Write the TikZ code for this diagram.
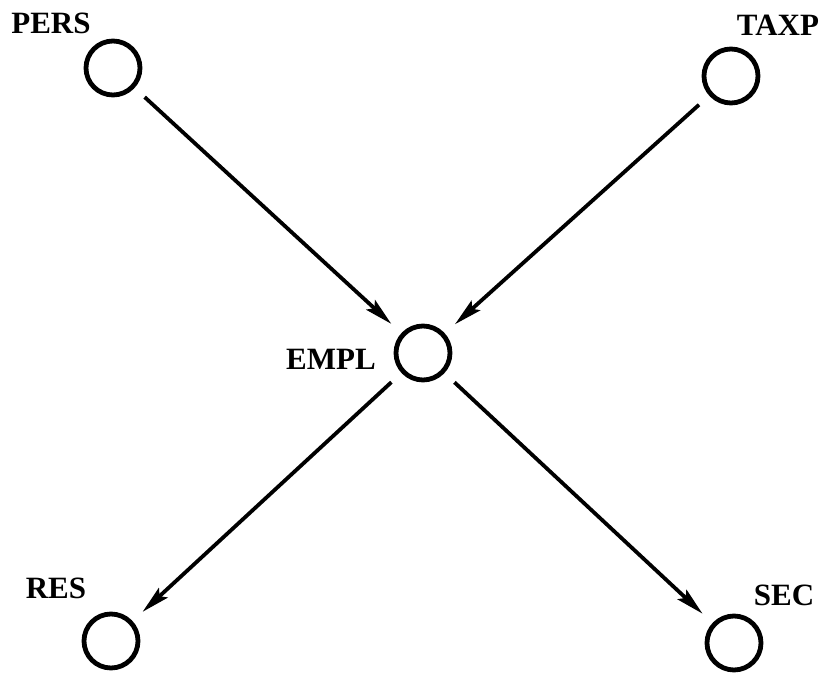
\documentclass[tikz,border=0pt]{standalone}
\usepackage{fontspec}
\setmainfont{Liberation Serif}
\usetikzlibrary{arrows.meta}
\begin{document}
\begin{tikzpicture}[x=1pt,y=-1pt,
  ent/.style={circle,draw,line width=4.8pt,minimum size=54pt,inner sep=0pt,outer sep=16pt},
  lbl/.style={font=\fontsize{31}{33}\selectfont\bfseries,inner sep=0pt},
  conn/.style={line width=3.8pt,-{Stealth[length=28pt,width=13pt,inset=5pt]}}]
\useasboundingbox (0,0) rectangle (823,674);
\node[ent] (pers) at (113,68) {};
\node[ent] (taxp) at (731,76) {};
\node[ent] (empl) at (423,353) {};
\node[ent] (res) at (111,641) {};
\node[ent] (sec) at (734,643) {};
\node[lbl] (lpers) at (51,23) {PERS};
\node[lbl] (ltaxp) at (778,25) {TAXP};
\node[lbl] (lempl) at (331,359) {EMPL};
\node[lbl] (lres) at (56,588) {RES};
\node[lbl] (lsec) at (784,595) {SEC};
\draw[conn] (pers) -- (empl);
\draw[conn] (taxp) -- (empl);
\draw[conn] (empl) -- (res);
\draw[conn] (empl) -- (sec);
\end{tikzpicture}
\end{document}
